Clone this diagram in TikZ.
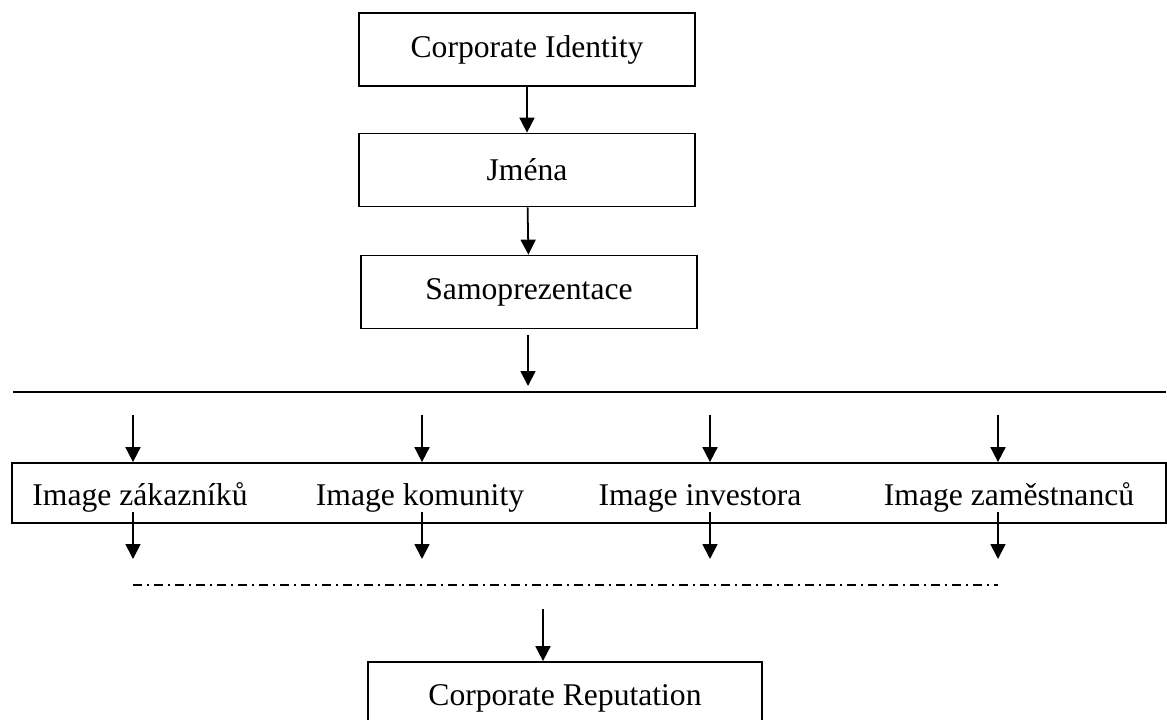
\documentclass[tikz,border=0pt]{standalone}
\usepackage{fontspec}
\setmainfont{Liberation Serif}
\usepackage{tikz}
\usetikzlibrary{arrows.meta,positioning,calc}

\begin{document}
\begin{tikzpicture}[
        x=0.02cm, y=-0.02cm,
        >={Triangle[length=0.3cm,width=0.3cm]},
        every node/.style={font=\fontsize{18}{22}\selectfont},
        block/.style={
            draw,
            line width=1pt,
            align=center,
            minimum width=6.72cm,
            minimum height=1.46cm,
            inner sep=0pt
        },
        imgtext/.style={inner sep=0pt, anchor=base},
        arrow/.style={->, line width=1pt},
        rule/.style={line width=1pt},
        dashdot/.style={line width=0.8pt, dash pattern=on 0.18cm off 0.1cm on 0.04cm off 0.1cm}
    ]

    \useasboundingbox (0,0) rectangle (1167,720);

    \node[block] (ci) at (527,49.5) {Corporate Identity};
    \node[block] (jmena) at (527,170) {Jména};
    \node[block] (samo) at (529,292) {Samoprezentace};

    \draw[arrow] (ci) -- (jmena);
    \draw[arrow] (jmena) -- (samo);

    \coordinate (down) at (528,335);
    \coordinate (busin) at (528,386);
    \draw[arrow] (down) -- (busin);

    \coordinate (busL) at (13,392);
    \coordinate (busR) at (1166,392);
    \draw[rule] (busL) -- (busR);

    \node[block, minimum width=23.08cm, minimum height=1.2cm] (images) at (589,493) {};

    \node[imgtext] (zak) at (140,505) {Image zákazníků};
    \node[imgtext] (kom) at (420,505) {Image komunity};
    \node[imgtext] (inv) at (700,505) {Image investora};
    \node[imgtext] (zam) at (1009,505) {Image zaměstnanců};

    \coordinate (in1) at (133,415);
    \coordinate (in2) at (422,415);
    \coordinate (in3) at (710,415);
    \coordinate (in4) at (998,415);
    \draw[arrow] (in1) -- (in1 |- images.north);
    \draw[arrow] (in2) -- (in2 |- images.north);
    \draw[arrow] (in3) -- (in3 |- images.north);
    \draw[arrow] (in4) -- (in4 |- images.north);

    \coordinate (out1) at (133,512);
    \coordinate (out2) at (422,512);
    \coordinate (out3) at (710,512);
    \coordinate (out4) at (998,512);
    \draw[arrow] (out1) -- ++(0,47);
    \draw[arrow] (out2) -- ++(0,47);
    \draw[arrow] (out3) -- ++(0,47);
    \draw[arrow] (out4) -- ++(0,47);

    \coordinate (joinL) at (133,585);
    \coordinate (joinR) at (998,585);
    \draw[dashdot] (joinL) -- (joinR);

    \node[block, minimum width=7.88cm] (rep) at (565,698.5) {Corporate Reputation};

    \coordinate (toRep) at (543,609);
    \draw[arrow] (toRep) -- (toRep |- rep.north);

\end{tikzpicture}
\end{document}
